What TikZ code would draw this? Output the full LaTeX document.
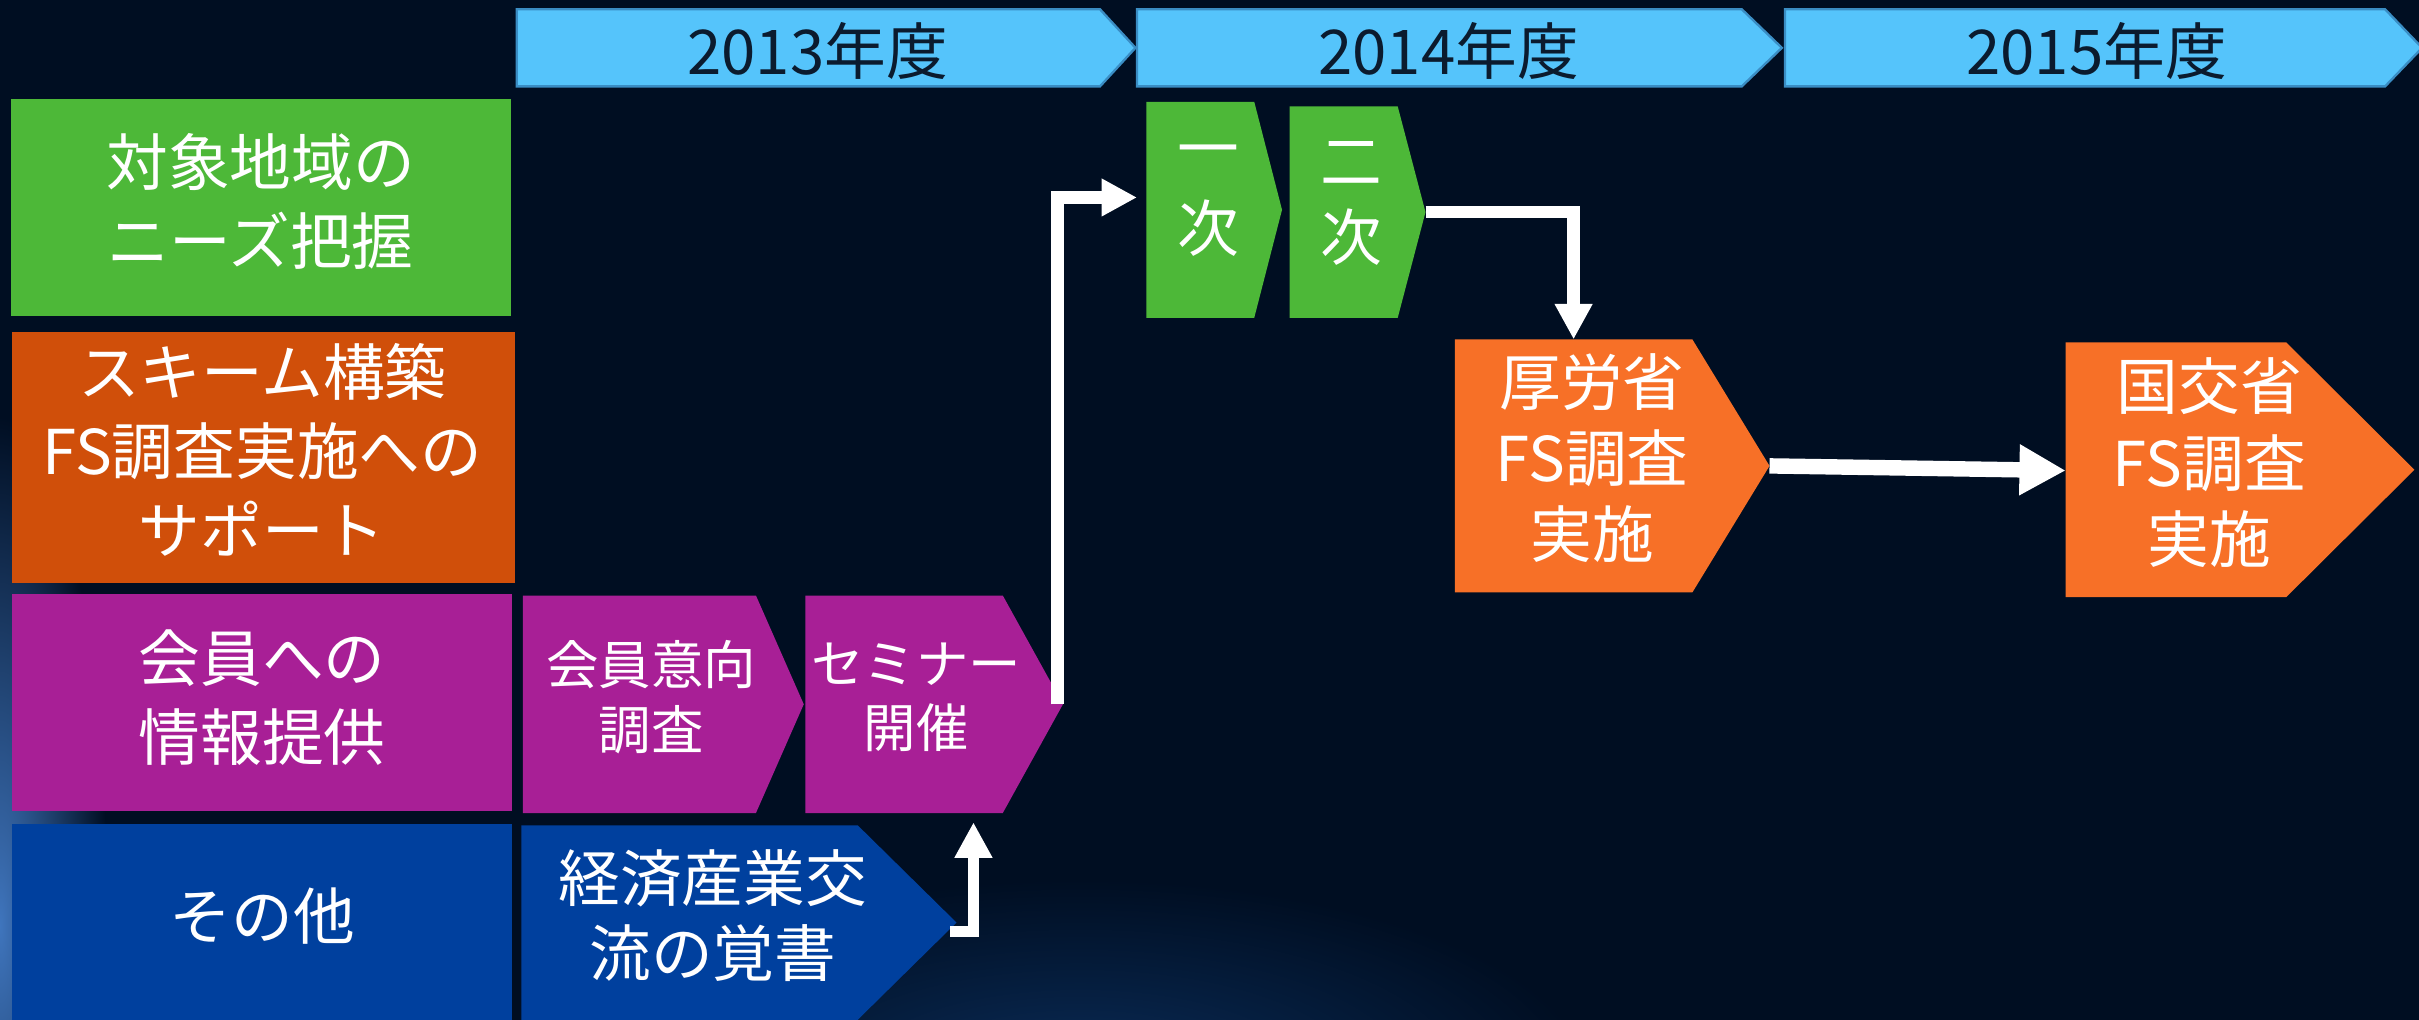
\documentclass[tikz,border=0pt]{standalone}
\usepackage{fontspec}
\newfontfamily\jp{Noto Sans CJK JP}
\usetikzlibrary{arrows.meta}
\definecolor{bg}{HTML}{000E22}
\definecolor{bannerfill}{HTML}{55C4FB}
\definecolor{bannerline}{HTML}{3A8DC4}
\definecolor{bannertext}{HTML}{0B1B2E}
\definecolor{cgreen}{HTML}{4DB838}
\definecolor{crust}{HTML}{D04F0A}
\definecolor{cpurple}{HTML}{A81F96}
\definecolor{cblue}{HTML}{00409E}
\definecolor{corange}{HTML}{F77027}
\definecolor{glow}{HTML}{3F75BD}
\definecolor{glowb}{HTML}{0A2C58}
% name, x1, y1, x-body-end, x-tip, y2, options
\newcommand\chevshape[7]{%
  \path[#7] (#2,#3) -- (#4,#3) -- (#5,{(#3+#6)/2}) -- (#4,#6) -- (#2,#6) -- cycle;
  \coordinate (#1-tip) at (#5,{(#3+#6)/2});
}
\tikzset{
  bigtxt/.style={text=white, align=center, font=\jp\fontsize{40}{51}\selectfont, inner sep=0pt},
  midtxt/.style={text=white, align=center, font=\jp\fontsize{34}{42}\selectfont, inner sep=0pt},
  yeartxt/.style={text=bannertext, font=\jp\fontsize{40}{48}\selectfont, inner sep=0pt},
  banner/.style={fill=bannerfill, draw=bannerline, line width=1.5pt},
  conn/.style={draw=white, line width=8pt, line join=miter, -{Triangle[length=23pt,width=23pt]}},
}
\begin{document}
\begin{tikzpicture}[x=1pt,y=-1pt]
\useasboundingbox (0,0) rectangle (1568,661);
% background
\fill[bg] (0,0) rectangle (1568,661);
\begin{scope}
\clip (0,0) rectangle (1568,661);
\shade[inner color=glow, outer color=bg] (0,600) ellipse [x radius=70, y radius=330];
\shade[inner color=glowb, outer color=bg] (700,700) ellipse [x radius=330, y radius=130];
\end{scope}

% year banners
\chevshape{y13}{335}{6}{713}{736}{56}{banner}
\chevshape{y14}{737}{6}{1129}{1155}{56}{banner}
\chevshape{y15}{1157}{6}{1546}{1570}{56}{banner}
\node[yeartxt] (t13) at (530,33) {2013年度};
\node[yeartxt] (t14) at (939,33) {2014年度};
\node[yeartxt] (t15) at (1359,33) {2015年度};

% left category column
\fill[cgreen]  (7,64)   rectangle (331,205);
\fill[crust]   (8,215)  rectangle (334,378);
\fill[cpurple] (8,385)  rectangle (332,526);
\fill[cblue]   (8,534)  rectangle (332,661);
\node[bigtxt] (cat1) at (169,130.5) {対象地域の\\ニーズ把握};
\node[bigtxt] (cat2) at (170,291.5) {スキーム構築\\FS調査実施への\\サポート};
\node[bigtxt] (cat3) at (170,452) {会員への\\情報提供};
\node[bigtxt] (cat4) at (170,594) {その他};

% process chevrons
\chevshape{ikou}{339}{386}{490}{521}{527}{fill=cpurple}
\chevshape{semi}{522}{386}{650}{689}{527}{fill=cpurple}
\chevshape{keizai}{338}{535}{556}{620}{661}{fill=cblue}
\chevshape{ichi}{743}{66}{813}{831}{206}{fill=cgreen}
\chevshape{ni}{836}{69}{906}{924}{206}{fill=cgreen}
\chevshape{kourou}{943}{220}{1097}{1147}{384}{fill=corange}
\chevshape{kokkou}{1339}{222}{1482}{1565}{387}{fill=corange}

\node[midtxt] (ikoutxt) at (422,452) {会員意向\\調査};
\node[midtxt] (semitxt) at (594,452) {セミナー\\開催};
\node[bigtxt, font=\jp\fontsize{40}{49}\selectfont] (keizaitxt) at (462,593.5) {経済産業交\\流の覚書};
\node[bigtxt, font=\jp\fontsize{40}{52}\selectfont] (ichitxt) at (783,130) {一\\次};
\node[bigtxt, font=\jp\fontsize{40}{49}\selectfont] (nitxt) at (876,132) {二\\次};
\node[bigtxt, font=\jp\fontsize{40}{49.5}\selectfont] (kouroutxt) at (1032,297) {厚労省\\FS調査\\実施};
\node[bigtxt, font=\jp\fontsize{40}{49.5}\selectfont] (kokkoutxt) at (1432,300) {国交省\\FS調査\\実施};

% connector end points
\coordinate (ichi-in) at (737,128);
\coordinate (kourou-in) at (1020,220);
\coordinate (kokkou-in) at (1339,305);
\coordinate (keizai-out) at (616,604);
\coordinate (semi-in) at (631,533);

% connectors
\draw[conn] ([xshift=-3.5pt]semi-tip) |- (ichi-in);
\draw[conn] (ni-tip) -| (kourou-in);
\draw[conn, line width=10pt, -{Triangle[length=30pt,width=31pt]}] (kourou-tip) -- (kokkou-in);
\draw[conn, line width=7pt] (keizai-out) -| (semi-in);
\end{tikzpicture}
\end{document}
